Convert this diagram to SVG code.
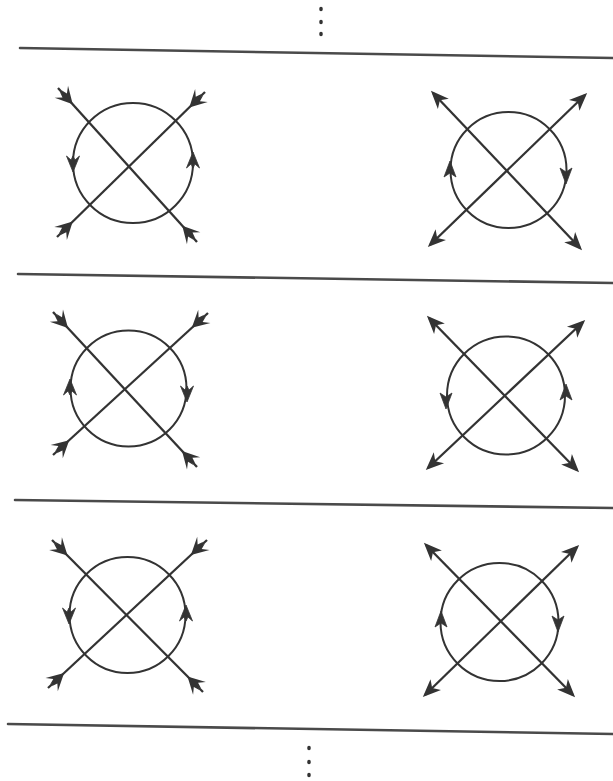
<svg xmlns="http://www.w3.org/2000/svg" xmlns:xlink="http://www.w3.org/1999/xlink" width="613" height="781" viewBox="0 0 613 781">
<style>
.rule{stroke:#4a4a4a;stroke-width:2.6;fill:none;stroke-linecap:round}
.circ{stroke:#333;stroke-width:2;fill:none}
.in{stroke:#333;stroke-width:2.3;fill:none;marker-start:url(#finS);marker-end:url(#finE)}
.out{stroke:#333;stroke-width:2.3;fill:none;marker-start:url(#head);marker-end:url(#head)}
.ah{fill:#333;stroke:#333;stroke-width:0.8;stroke-linejoin:round}
.dot{fill:#333}
</style>
<defs>
<marker id="finS" markerUnits="userSpaceOnUse" orient="auto" refX="0" refY="0" markerWidth="1" markerHeight="1" overflow="visible">
<path d="M22,0 L5,-9 L10,-3 L4,-1.2 L9,0 L4,1.2 L10,3 L5,9 Z" fill="#333"/>
</marker>
<marker id="finE" markerUnits="userSpaceOnUse" orient="auto" refX="0" refY="0" markerWidth="1" markerHeight="1" overflow="visible">
<path d="M-22,0 L-5,-9 L-10,-3 L-4,-1.2 L-9,0 L-4,1.2 L-10,3 L-5,9 Z" fill="#333"/>
</marker>
<marker id="head" markerUnits="userSpaceOnUse" orient="auto-start-reverse" refX="0" refY="0" markerWidth="1" markerHeight="1" overflow="visible">
<path d="M3,0 L-15,-7.5 L-10,0 L-15,7.5 Z" fill="#333"/>
</marker>
<path id="cfin" d="M0,0 L-16,-6.5 L-12,-2 L-16,0 L-12,2 L-16,6.5 Z"/>
<path id="chead" d="M0,0 L-16,-6 L-12,0 L-16,6 Z"/>
</defs>

<g id="rules">
<line class="rule" x1="20" y1="48" x2="613" y2="58"/>
<line class="rule" x1="18" y1="274" x2="613" y2="283"/>
<line class="rule" x1="15" y1="500" x2="613" y2="508"/>
<line class="rule" x1="8" y1="724" x2="613" y2="734"/>
</g>

<g id="dots-top">
<ellipse class="dot" cx="321" cy="9" rx="1.8" ry="2.3"/>
<ellipse class="dot" cx="321" cy="22" rx="1.8" ry="2.3"/>
<ellipse class="dot" cx="321" cy="34" rx="1.8" ry="2.3"/>
</g>
<g id="dots-bottom">
<ellipse class="dot" cx="309" cy="748" rx="1.8" ry="2.3"/>
<ellipse class="dot" cx="309" cy="762" rx="1.8" ry="2.3"/>
<ellipse class="dot" cx="309" cy="775" rx="1.8" ry="2.3"/>
</g>

<g id="fig1">
<circle class="circ" cx="133" cy="163" r="60"/>
<g id="connectors1">
<line class="in" x1="58" y1="88" x2="197" y2="242"/>
<line class="in" x1="57" y1="237" x2="205" y2="92"/>
</g>
<use xlink:href="#cfin" class="ah" transform="translate(73,172) rotate(90)"/>
<use xlink:href="#cfin" class="ah" transform="translate(193,152) rotate(-90)"/>
</g>

<g id="fig2">
<circle class="circ" cx="508.5" cy="170" r="58"/>
<g id="connectors2">
<line class="out" x1="433" y1="93" x2="580" y2="248"/>
<line class="out" x1="430" y1="245" x2="585" y2="95"/>
</g>
<use xlink:href="#chead" class="ah" transform="translate(450,161) rotate(-90)"/>
<use xlink:href="#chead" class="ah" transform="translate(566,184) rotate(90)"/>
</g>

<g id="fig3">
<circle class="circ" cx="128.5" cy="388.5" r="58"/>
<g id="connectors3">
<line class="in" x1="53" y1="312" x2="197" y2="467"/>
<line class="in" x1="53" y1="455" x2="208" y2="313"/>
</g>
<use xlink:href="#cfin" class="ah" transform="translate(70,379) rotate(-90)"/>
<use xlink:href="#cfin" class="ah" transform="translate(187,402) rotate(90)"/>
</g>

<g id="fig4">
<circle class="circ" cx="506" cy="395.5" r="59"/>
<g id="connectors4">
<line class="out" x1="429" y1="318" x2="577" y2="470"/>
<line class="out" x1="428" y1="468" x2="583" y2="322"/>
</g>
<use xlink:href="#chead" class="ah" transform="translate(446,409) rotate(90)"/>
<use xlink:href="#chead" class="ah" transform="translate(566,384) rotate(-90)"/>
</g>

<g id="fig5">
<circle class="circ" cx="127.5" cy="615" r="58"/>
<g id="connectors5">
<line class="in" x1="52" y1="540" x2="203" y2="692"/>
<line class="in" x1="48" y1="688" x2="207" y2="540"/>
</g>
<use xlink:href="#cfin" class="ah" transform="translate(69,624) rotate(90)"/>
<use xlink:href="#cfin" class="ah" transform="translate(186,605) rotate(-90)"/>
</g>

<g id="fig6">
<circle class="circ" cx="499.5" cy="622" r="59"/>
<g id="connectors6">
<line class="out" x1="426" y1="545" x2="573" y2="695"/>
<line class="out" x1="425" y1="695" x2="577" y2="547"/>
</g>
<use xlink:href="#chead" class="ah" transform="translate(441,611) rotate(-90)"/>
<use xlink:href="#chead" class="ah" transform="translate(558,632) rotate(90)"/>
</g>
</svg>
